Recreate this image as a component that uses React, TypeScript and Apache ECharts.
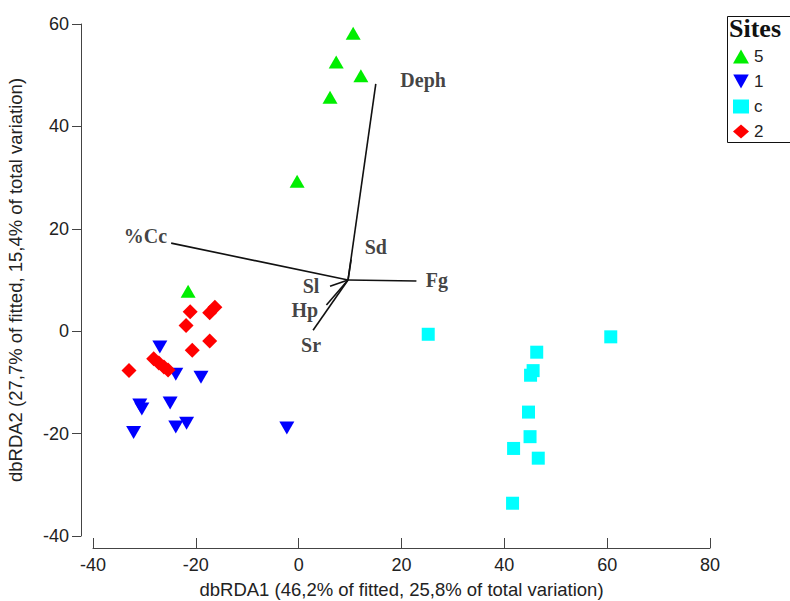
import React, { useEffect, useRef } from "react";
import * as echarts from "echarts";

const xTicks = { min: -40, max: 80, interval: 20 };
const yTicks = { min: -40, max: 60, interval: 20 };

const legendNames = ["5", "1", "c", "2"];

const site5 = [[10.6, 58.2], [7.3, 52.6], [12.1, 49.9], [6.1, 45.7], [-0.3, 29.3], [-21.5, 7.8]];
const site1 = [[-27.0, -3.1], [-23.9, -8.4], [-19.0, -9.0], [-30.9, -14.4], [-30.5, -15.2], [-25.0, -14.0], [-32.1, -19.8], [-23.9, -18.7], [-21.8, -18.0], [-2.3, -18.9]];
const siteC = [[25.2, -0.6], [60.7, -1.1], [46.3, -4.1], [45.6, -7.7], [45.1, -8.6], [44.7, -15.8], [45.0, -20.6], [41.8, -22.9], [46.6, -24.8], [41.6, -33.6]];
const site2 = [[-21.1, 3.8], [-17.3, 3.6], [-16.3, 4.7], [-21.9, 1.1], [-17.3, -1.9], [-20.7, -3.7], [-33.0, -7.7], [-28.2, -5.4], [-27.2, -6.2], [-26.2, -7.0], [-25.4, -7.6]];

const vectorOrigin = [9.6, 10.0];
const vectorNames = ["Deph", "%Cc", "Sd", "Fg", "Sl", "Hp", "Sr"];
const vectorEnds = [[15.0, 48.3], [-24.8, 17.2], [10.2, 14.0], [22.9, 9.8], [6.1, 8.8], [5.4, 5.1], [2.8, 0.2]];
const vectorLabelPos = [[24.2, 49.0], [-29.8, 18.6], [15.0, 16.4], [26.9, 10.0], [2.4, 8.8], [1.2, 4.2], [2.4, -2.6]];

const downTri = "path://M0,0L10,0L5,9Z";

export default function App() {
  const ref = useRef<HTMLDivElement>(null);
  useEffect(() => {
    if (!ref.current) return;
    const chart = echarts.init(ref.current, null, { renderer: "svg" });
    const axisText = { fontFamily: "Liberation Sans", fontSize: 18, color: "#222" };
    chart.setOption({
      animation: false,
      backgroundColor: "#fff",
      grid: { left: 93, right: 80, top: 24, bottom: 65, containLabel: false, outerBoundsMode: "none" },
      xAxis: {
        type: "value",
        min: xTicks.min,
        max: xTicks.max,
        interval: xTicks.interval,
        offset: 12,
        splitLine: { show: false },
        axisLine: { show: true, onZero: false, lineStyle: { color: "#444", width: 1 } },
        axisTick: { show: true, inside: true, length: 10, lineStyle: { color: "#444" } },
        axisLabel: { ...axisText, margin: 8 },
        name: "dbRDA1 (46,2% of fitted, 25,8% of total variation)",
        nameLocation: "middle",
        nameGap: 32,
        nameTextStyle: { ...axisText, fontSize: 18.5 },
      },
      yAxis: {
        type: "value",
        min: yTicks.min,
        max: yTicks.max,
        interval: yTicks.interval,
        offset: 12,
        splitLine: { show: false },
        axisLine: { show: true, onZero: false, lineStyle: { color: "#444", width: 1 } },
        axisTick: { show: true, inside: false, length: 9, lineStyle: { color: "#444" } },
        axisLabel: { ...axisText, margin: 12 },
        name: "dbRDA2 (27,7% of fitted, 15,4% of total variation)",
        nameLocation: "middle",
        nameGap: 56,
        nameTextStyle: { ...axisText, fontSize: 18.5 },
      },
      legend: {
        data: legendNames,
        orient: "vertical",
        left: 728,
        top: 43,
        itemWidth: 16,
        itemHeight: 14,
        itemGap: 8,
        textStyle: { fontFamily: "Liberation Sans", fontSize: 17, color: "#222" },
        z: 10,
      },
      graphic: [
        {
          type: "rect",
          shape: { x: 727.5, y: 16.5, width: 80, height: 126 },
          style: { fill: "#fff", stroke: "#111", lineWidth: 1 },
          z: 1,
        },
        {
          type: "text",
          x: 729,
          y: 15,
          style: { text: "Sites", font: "bold 26px 'Liberation Serif'", fill: "#111" },
          z: 2,
        },
      ],
      series: [
        {
          type: "lines",
          coordinateSystem: "cartesian2d",
          silent: true,
          lineStyle: { color: "#111", width: 1.6, opacity: 1 },
          data: vectorEnds.map((e) => ({ coords: [vectorOrigin, e] })),
          z: 1,
        },
        {
          type: "scatter",
          silent: true,
          symbolSize: 0,
          data: vectorLabelPos.map((p, i) => ({ value: p, name: vectorNames[i] })),
          label: {
            show: true,
            position: "inside",
            formatter: (p: any) => p.name,
            fontFamily: "Liberation Serif",
            fontWeight: "bold",
            fontSize: 20,
            color: "#111",
          },
          z: 2,
        },
        { name: "5", type: "scatter", data: site5, symbol: "triangle", symbolSize: [15, 13], itemStyle: { color: "#00ee00", opacity: 1 }, z: 3 },
        { name: "1", type: "scatter", data: site1, symbol: downTri, symbolSize: [15, 13], itemStyle: { color: "#0000ff", opacity: 1 }, z: 3 },
        { name: "c", type: "scatter", data: siteC, symbol: "rect", symbolSize: 13, itemStyle: { color: "#00ffff", opacity: 1 }, z: 3 },
        { name: "2", type: "scatter", data: site2, symbol: "diamond", symbolSize: 15, itemStyle: { color: "#ff0000", opacity: 1 }, z: 4 },
      ],
    });
    return () => chart.dispose();
  }, []);
  return <div ref={ref} style={{ width: 790, height: 601, position: "absolute", left: 0, top: 0 }} />;
}
